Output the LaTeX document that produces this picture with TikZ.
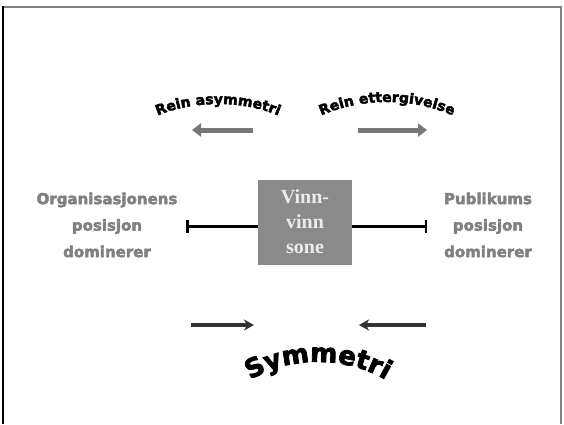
\documentclass[tikz,border=0pt]{standalone}
\usepackage{fontspec}
\setmainfont{Liberation Serif}
\newfontfamily\heavyfont{DejaVu Sans}[BoldFeatures={FakeBold=3}]
\usetikzlibrary{arrows.meta,positioning,decorations.text}

\definecolor{zonegray}{HTML}{8A8A8A}
\definecolor{labelgray}{HTML}{808080}
\definecolor{arrowgray}{HTML}{777777}
\definecolor{darkarrow}{HTML}{333333}

\tikzset{
  zone/.style={fill=zonegray, minimum width=94pt, minimum height=85pt, align=center,
    text=white!92!black, font=\bfseries\fontsize{20}{25}\selectfont},
  side/.style={align=center, text=labelgray, font=\heavyfont\bfseries\fontsize{15}{26.5}\selectfont},
  bar/.style={line width=3pt, -{Bar[width=13pt,line width=2.5pt]}},
  topshift/.style={line width=5pt, arrowgray, -{Triangle[length=9pt,width=13pt]}},
  botshift/.style={line width=3.2pt, darkarrow, -{Stealth[length=10pt,width=11pt,inset=3pt]}},
  arched/.style={decorate, decoration={text along path, text align=center, text={#1},
    text format delimiters={|}{|}}},
}

\begin{document}
\begin{tikzpicture}[x=1pt,y=-1pt]
  \useasboundingbox (0,0) rectangle (564,424);
  % frame
  \draw[line width=2pt, gray] (3,7) -- (561,7) -- (561,424);
  \draw[line width=2pt] (3,6) -- (3,424);

  \node[zone] (zone)  at (305,222) {Vinn-\\vinn\\sone};
  \node[side] (org)   at (107,225) {Organisasjonens\\posisjon\\dominerer};
  \node[side] (pub)   at (488,225) {Publikums\\posisjon\\dominerer};

  \coordinate (lbar) at (186,226);
  \coordinate (rbar) at (427,226);
  \draw[bar] (zone.west |- lbar) -- (lbar);
  \draw[bar] (zone.east |- rbar) -- (rbar);

  % concessions
  \coordinate (asymA) at (253,130);
  \coordinate (asymB) at (192,130);
  \coordinate (ettA)  at (358,130);
  \coordinate (ettB)  at (427,130);
  \draw[topshift] (asymA) -- (asymB);
  \draw[topshift] (ettA) -- (ettB);

  % meeting in the middle
  \coordinate (symA) at (191,325);
  \coordinate (symB) at (254,325);
  \coordinate (symC) at (426,325);
  \coordinate (symD) at (359,325);
  \draw[botshift] (symA) -- (symB);
  \draw[botshift] (symC) -- (symD);

  % curved captions
  \path[arched={|\heavyfont\bfseries\fontsize{14}{14}\selectfont|Rein asymmetri}]
    (150,119) .. controls (190,99) and (246,99) .. (286,119);
  \path[arched={|\heavyfont\bfseries\fontsize{14}{14}\selectfont|Rein ettergivelse}]
    (318,117) .. controls (360,97) and (414,97) .. (456,117);
  \path[arched={|\heavyfont\bfseries\fontsize{26}{26}\selectfont|Symmetri}]
    (234,392) .. controls (278,352) and (358,352) .. (402,392);
\end{tikzpicture}
\end{document}
